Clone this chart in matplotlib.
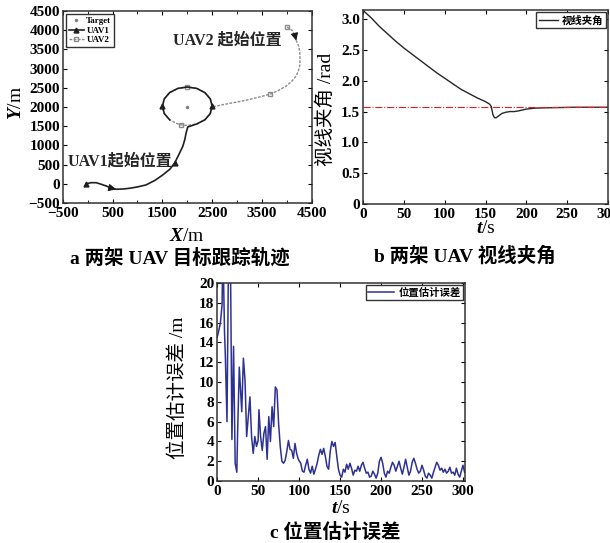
import matplotlib
matplotlib.use('Agg')
import matplotlib.pyplot as plt
from matplotlib.ticker import MultipleLocator, FixedLocator, FuncFormatter

# panel a: trajectories (m)
uav1_x = [-30, 60, 170, 270, 370, 470, 570, 700, 840, 1000, 1170, 1350, 1510, 1650, 1750, 1830, 1910, 1950, 1977, 2010,
          2191, 2354, 2462, 2500, 2462, 2354, 2191, 2000, 1809, 1646, 1538, 1500, 1538, 1646]
uav1_y = [0, 30, 30, -10, -55, -110, -140, -135, -115, -80, -28, 90, 234, 380, 550, 760, 975, 1150, 1326, 1480,
          1558, 1666, 1829, 2020, 2211, 2374, 2482, 2520, 2482, 2374, 2211, 2020, 1829, 1666]
uav1_marks = [0, 14, 23, 31]

uav2_x = [4005, 4100, 4160, 4190, 4240, 4260, 4265, 4260, 4230, 4190, 4100, 3990, 3830, 3657, 3450, 3255, 3050, 2853,
          2680, 2518, 2462, 2354, 2191, 2000, 1809, 1646, 1538, 1500, 1538, 1646, 1809, 1880, 2000, 2191, 2354, 2462, 2500]
uav2_y = [4077, 4000, 3880, 3726, 3580, 3420, 3250, 3070, 2930, 2810, 2670, 2547, 2430, 2330, 2260, 2199, 2140, 2094,
          2050, 2007, 2211, 2374, 2482, 2520, 2482, 2374, 2211, 2020, 1829, 1666, 1558, 1534, 1520, 1558, 1666, 1829, 2020]
uav2_marks = [0, 13, 23, 31]

target_x = [2000]
target_y = [2000]

xticks_a = [-500, 500, 1500, 2500, 3500, 4500]

# panel b: line-of-sight angle (rad)
t_los = [0, 10, 20, 30, 40, 50, 60, 70, 80, 90, 100, 110, 120, 130, 140, 150, 155, 157, 159, 161, 163, 166, 170,
         175, 180, 185, 190, 200, 210, 220, 240, 260, 280, 300]
los = [3.14, 3.02, 2.88, 2.76, 2.64, 2.53, 2.43, 2.33, 2.23, 2.13, 2.04, 1.95, 1.86, 1.79, 1.72, 1.66, 1.62, 1.58,
       1.45, 1.40, 1.40, 1.43, 1.47, 1.49, 1.50, 1.50, 1.51, 1.54, 1.555, 1.56, 1.565, 1.57, 1.57, 1.57]
los_ref = 1.5708

# panel c: position estimation error (m)
t_err = [0, 2, 4, 6, 7, 9, 10, 12, 14, 16, 18, 20, 22, 24, 25, 27, 29, 30, 32, 34, 36, 38, 40, 42, 44, 46, 48, 50,
         51, 53, 55, 57, 59, 61, 63, 65, 67, 69, 71, 73, 75, 77, 79, 81, 83, 85, 87, 89, 91, 93, 95, 97, 99, 102,
         104, 106, 108, 110, 112, 114, 116, 118, 120, 122, 124, 126, 128, 130, 132, 134, 136, 138, 140, 142, 144,
         146, 148, 150, 152, 154, 156, 158, 160, 162, 164, 166, 168, 170, 172, 174, 176, 178, 180, 182, 184, 186,
         188, 190, 192, 194, 196, 198, 200, 202, 204, 206, 208, 210, 212, 214, 216, 218, 220, 222, 224, 226, 228,
         230, 232, 234, 236, 238, 240, 242, 244, 246, 248, 250, 252, 254, 256, 258, 260, 262, 264, 266, 268, 270,
         272, 274, 276, 278, 280, 282, 284, 286, 288, 290, 292, 294, 296, 298, 300, 302]
err = [14.5, 15.2, 16.0, 17.8, 24, 15, 12.6, 6.0, 24, 25, 4.2, 13.6, 1.8, 0.9, 5, 11.5, 8.5, 7, 12.4, 10.2, 4.5,
       6.5, 8.5, 4.5, 2.8, 4.5, 3.5, 4.1, 7.2, 4.5, 3.1, 4.8, 5.5, 2.2, 6.5, 4.0, 7.5, 5.5, 9.5, 9.2, 5.8, 3.5,
       2.0, 1.8, 2.1, 3.0, 4.1, 3.2, 3.1, 2.3, 3.8, 2.8, 2.2, 1.8, 1.0, 0.9, 1.6, 2.2, 1.2, 0.8, 1.5, 0.7, 1.2,
       1.8, 2.6, 3.2, 2.7, 3.3, 2.5, 1.5, 1.2, 3.0, 4.0, 3.5, 3.9, 2.5, 1.2, 0.6, 0.4, 1.2, 0.9, 1.7, 1.2, 1.8,
       1.3, 0.6, 1.1, 1.0, 1.5, 1.0, 1.6, 1.9, 1.3, 0.8, 0.9, 0.4, 0.5, 1.0, 0.7, 0.3, 0.8, 2.0, 2.4, 1.8, 0.8,
       0.4, 1.0, 0.8, 1.4, 1.9, 1.6, 1.0, 1.5, 2.0, 1.3, 0.7, 1.4, 2.2, 1.4, 0.6, 1.0, 1.9, 2.3, 1.8, 1.2, 0.8,
       1.0, 1.6, 1.1, 0.5, 0.3, 0.8, 0.6, 0.3, 0.9, 1.4, 1.9, 1.6, 1.1, 1.3, 0.9, 1.2, 0.8, 1.0, 1.4, 0.8, 0.9,
       0.6, 1.3, 0.7, 0.4, 1.0, 1.6, 0.9]

plt.rcParams.update({
    'font.family': ['Liberation Serif', 'Noto Sans CJK SC'],
    'font.weight': 'bold',
    'font.size': 11,
    'mathtext.fontset': 'custom',
    'mathtext.it': 'Liberation Serif:italic:bold',
    'mathtext.rm': 'Liberation Serif:bold',
    'xtick.direction': 'in', 'ytick.direction': 'in',
    'xtick.top': True, 'ytick.right': True,
    'xtick.major.size': 3, 'ytick.major.size': 3,
    'xtick.major.pad': 3, 'ytick.major.pad': 2,
    'axes.linewidth': 1.1,
    'axes.edgecolor': '0.2',
})

fig = plt.figure(figsize=(6.1, 5.43), dpi=100)
ax1 = fig.add_axes([0.103, 0.626, 0.408, 0.354])
ax2 = fig.add_axes([0.595, 0.624, 0.402, 0.357])
ax3 = fig.add_axes([0.356, 0.114, 0.407, 0.365])

# ---- a ----
ax1.plot(target_x, target_y, '.', color='0.5', markersize=3, label='Target')
ax1.plot(uav2_x, uav2_y, color='0.55', linewidth=1.0, linestyle=(0, (2, 1)), marker='s', markersize=3.5,
         markerfacecolor='none', markevery=uav2_marks, label='UAV2', zorder=2)
ax1.plot(uav1_x, uav1_y, color='0.12', linewidth=1.2, marker='^', markersize=3.5, markevery=uav1_marks,
         label='UAV1', zorder=3)
ax1.annotate('', xy=(uav1_x[6], uav1_y[6]), xytext=(uav1_x[5], uav1_y[5]),
             arrowprops=dict(arrowstyle='-|>', color='0.1', lw=0.8, mutation_scale=11, shrinkA=0, shrinkB=0))
ax1.annotate('', xy=(uav2_x[3], uav2_y[3]), xytext=(uav2_x[2], uav2_y[2]),
             arrowprops=dict(arrowstyle='-|>', color='0.1', lw=0.8, mutation_scale=11, shrinkA=0, shrinkB=0))
ax1.text(3900, 3726, 'UAV2 起始位置', ha='right', va='center', fontsize=11.5, color='0.15')
ax1.text(-400, 582, 'UAV1起始位置', ha='left', va='center', fontsize=11.5, color='0.15')
ax1.set_xlim(-500, 4500)
ax1.set_ylim(-500, 4500)
ax1.xaxis.set_major_locator(FixedLocator(xticks_a))
ax1.xaxis.set_minor_locator(MultipleLocator(500))
ax1.yaxis.set_major_locator(MultipleLocator(500))
ax1.tick_params(which='minor', direction='in', top=True, length=2)
ax1.set_xlabel(r'$X$/m', fontsize=14)
ax1.set_ylabel(r'$Y$/m', fontsize=14)
ax1.xaxis.set_label_coords(0.5, -0.13)
ax1.yaxis.set_label_coords(-0.153, 0.52)
h, l = ax1.get_legend_handles_labels()
ax1.legend([h[0], h[2], h[1]], [l[0], l[2], l[1]], loc='upper left', fontsize=6.5, handlelength=1.6,
           borderpad=0.3, labelspacing=0.1, handletextpad=0.3, fancybox=False, edgecolor='0.2',
           framealpha=1, borderaxespad=0.4)

# ---- b ----
ax2.plot(t_los, los, color='0.15', linewidth=1.0, label='视线夹角')
ax2.axhline(los_ref, color='#e02020', linestyle='-.', linewidth=0.8)
ax2.set_xlim(0, 300)
ax2.set_ylim(0, 3.14)
ax2.xaxis.set_major_locator(MultipleLocator(50))
ax2.yaxis.set_major_locator(MultipleLocator(0.5))
ax2.yaxis.set_major_formatter(FuncFormatter(lambda v, p: '0' if v == 0 else '%.1f' % v))
ax2.set_xlabel(r'$t$/s', fontsize=14)
ax2.set_ylabel('视线夹角 /rad', fontsize=14)
ax2.xaxis.set_label_coords(0.5, -0.082)
ax2.yaxis.set_label_coords(-0.114, 0.49)
ax2.legend(loc='upper right', fontsize=7.5, handlelength=1.8, borderpad=0.25, handletextpad=0.4,
           fancybox=False, edgecolor='0.2', framealpha=1, borderaxespad=0.2)

# ---- c ----
ax3.plot(t_err, err, color='#2d3192', linewidth=1.1, label='位置估计误差')
ax3.set_xlim(0, 303)
ax3.set_ylim(0, 20)
ax3.xaxis.set_major_locator(MultipleLocator(50))
ax3.yaxis.set_major_locator(MultipleLocator(2))
ax3.set_xlabel(r'$t$/s', fontsize=14)
ax3.set_ylabel('位置估计误差 /m', fontsize=14)
ax3.xaxis.set_label_coords(0.5, -0.096)
ax3.yaxis.set_label_coords(-0.121, 0.47)
ax3.legend(loc='upper right', fontsize=7.5, handlelength=2.5, borderpad=0.25, handletextpad=0.4,
           fancybox=False, edgecolor='0.2', framealpha=1, borderaxespad=0.2)

# captions
fig.text(0.295, 1 - 258 / 543, 'a 两架 UAV 目标跟踪轨迹', ha='center', va='center', fontsize=14)
fig.text(0.762, 1 - 256 / 543, 'b 两架 UAV 视线夹角', ha='center', va='center', fontsize=14)
fig.text(0.549, 1 - 532 / 543, 'c 位置估计误差', ha='center', va='center', fontsize=14)

fig.savefig('out.png', dpi=100)
